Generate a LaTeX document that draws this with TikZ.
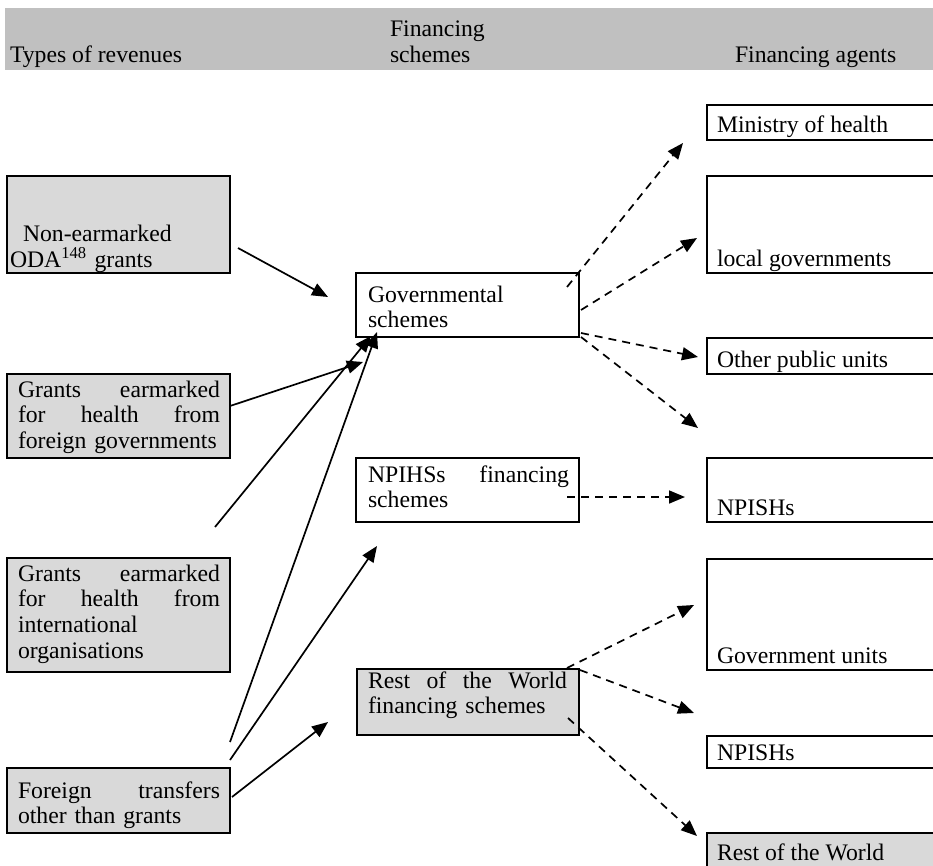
\documentclass[tikz,border=0pt]{standalone}
\usepackage{fontspec}
\setmainfont{Liberation Serif}
\usetikzlibrary{arrows.meta}
\definecolor{bandgrey}{HTML}{C0C0C0}
\definecolor{boxgrey}{HTML}{D9D9D9}
\begin{document}
\begin{tikzpicture}[x=1pt,y=-1pt,
  font=\fontsize{23.7}{25.8}\selectfont,
  frame/.style={draw=black, line width=2.5pt, inner sep=0pt, outer sep=0pt, anchor=north west},
  shaded/.style={frame, fill=boxgrey},
  plain/.style={frame, fill=white},
  label/.style={inner sep=0pt, outer sep=0pt, anchor=base west, align=left},
  flow/.style={line width=1.7pt, -{Triangle[length=16pt,width=13pt]}},
  feed/.style={flow, dash pattern=on 8pt off 6pt}]
\useasboundingbox (0,0) rectangle (933,866);
\clip (0,0) rectangle (933,866);

% column headings
\node[fill=bandgrey, inner sep=0pt, anchor=north west, minimum width=928pt, minimum height=62pt] (band) at (5,8) {};
\node[label] (hrev) at (10,63) {Types of revenues};
\node[label, text width=200pt] (hsch) at (390,37) {Financing\\schemes};
\node[label] (hagt) at (735,63) {Financing agents};

% types of revenues
\node[shaded, minimum width=223pt, minimum height=97pt]  (nonear) at (7,176) {};
\node[shaded, minimum width=223pt, minimum height=84pt]  (grfor)  at (7,374) {};
\node[shaded, minimum width=223pt, minimum height=114pt] (grint)  at (7,558) {};
\node[shaded, minimum width=223pt, minimum height=65pt]  (fortr)  at (7,768) {};

\node[label, text width=215pt] (tnonear) at (10,242) {\hspace*{13pt}Non-earmarked\\ODA\textsuperscript{148} grants};
\node[label, text width=202pt] (tgrfor) at (18,397) {Grants\hfill earmarked\\for\hfill health\hfill from\\foreign governments};
\node[label, text width=202pt] (tgrint) at (18,581) {Grants\hfill earmarked\\for\hfill health\hfill from\\international\\organisations};
\node[label, text width=202pt] (tfortr) at (18,798) {Foreign\hfill transfers\\other than grants};

% financing schemes
\node[plain,  minimum width=223pt, minimum height=64pt] (gov)    at (356,273) {};
\node[plain,  minimum width=223pt, minimum height=64pt] (npihs)  at (356,458) {};
\node[shaded, minimum width=222pt, minimum height=66pt] (rowsch) at (357,669) {};

\node[label, text width=200pt] (tgov) at (368,302) {Governmental\\schemes};
\node[label, text width=201pt] (tnpihs) at (368,482) {NPIHSs\hfill financing\\schemes};
\node[label, text width=199pt] (trowsch) at (368,688) {Rest\hfill of\hfill the\hfill World\\financing schemes};

% financing agents
\node[plain,  minimum width=240pt, minimum height=35pt]  (moh)    at (707,105) {};
\node[plain,  minimum width=240pt, minimum height=97pt]  (locg)   at (707,176) {};
\node[plain,  minimum width=240pt, minimum height=36pt]  (opu)    at (707,338) {};
\node[plain,  minimum width=240pt, minimum height=64pt]  (npish)  at (707,458) {};
\node[plain,  minimum width=240pt, minimum height=111pt] (govu)   at (707,559) {};
\node[plain,  minimum width=240pt, minimum height=32pt]  (npish2) at (707,736) {};
\node[shaded, minimum width=240pt, minimum height=50pt]  (rowag)  at (707,833) {};

\node[label] (tmoh)    at (717,133) {Ministry of health};
\node[label] (tlocg)   at (717,266) {local governments};
\node[label] (topu)    at (717,367) {Other public units};
\node[label] (tnpish)  at (717,515) {NPISHs};
\node[label] (tgovu)   at (717,663) {Government units};
\node[label] (tnpish2) at (717,760) {NPISHs};
\node[label] (trowag)  at (717,860) {Rest of the World};

% end points of the flows
\coordinate (a1s) at (238,248); \coordinate (a1e) at (328,297);
\coordinate (a2s) at (230,406); \coordinate (a2e) at (363,362);
\coordinate (a3s) at (215,527); \coordinate (a3e) at (371,336);
\coordinate (a4s) at (230,742); \coordinate (a4e) at (377,332);
\coordinate (a5s) at (230,760); \coordinate (a5e) at (377,546);
\coordinate (a6s) at (232,797); \coordinate (a6e) at (328,722);

\coordinate (d1s) at (567,287); \coordinate (d1e) at (683,143);
\coordinate (d2s) at (581,310); \coordinate (d2e) at (697,238);
\coordinate (d3s) at (581,333); \coordinate (d3e) at (698,357);
\coordinate (d4s) at (581,337); \coordinate (d4e) at (698,428);
\coordinate (d5s) at (567,497); \coordinate (d5e) at (685,497);
\coordinate (d6s) at (567,668); \coordinate (d6e) at (694,605);
\coordinate (d7s) at (580,670); \coordinate (d7e) at (694,713);
\coordinate (d8s) at (568,718); \coordinate (d8e) at (697,836);

% revenues into schemes
\draw[flow] (a1s) -- (a1e);
\draw[flow] (a2s) -- (a2e);
\draw[flow] (a3s) -- (a3e);
\draw[flow] (a4s) -- (a4e);
\draw[flow] (a5s) -- (a5e);
\draw[flow] (a6s) -- (a6e);

% schemes to agents
\draw[feed] (d1s) -- (d1e);
\draw[feed] (d2s) -- (d2e);
\draw[feed] (d3s) -- (d3e);
\draw[feed] (d4s) -- (d4e);
\draw[feed] (d5s) -- (d5e);
\draw[feed] (d6s) -- (d6e);
\draw[feed] (d7s) -- (d7e);
\draw[feed] (d8s) -- (d8e);
\end{tikzpicture}
\end{document}
